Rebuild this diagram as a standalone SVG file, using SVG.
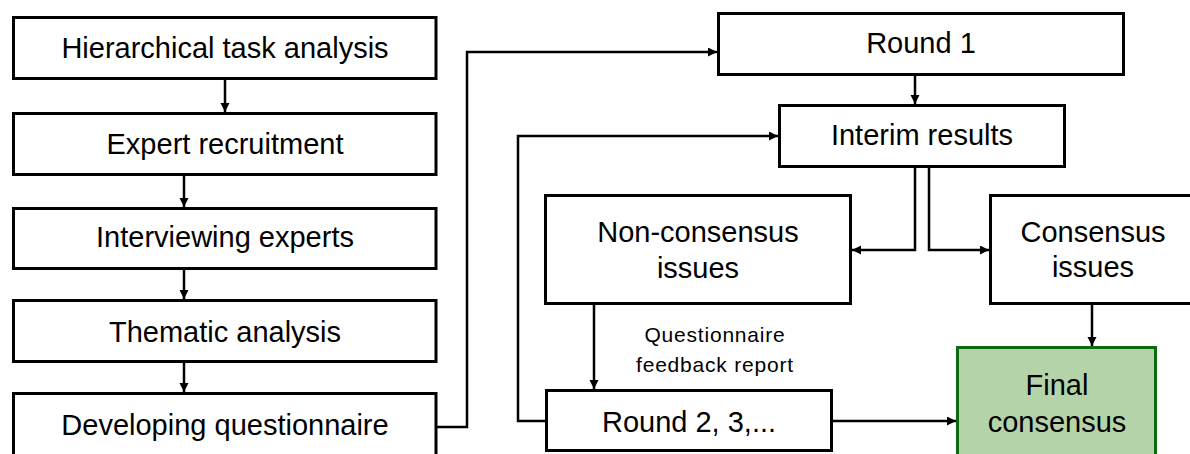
<svg xmlns="http://www.w3.org/2000/svg" width="1190" height="454" viewBox="0 0 1190 454">
<style>
.box{fill:#ffffff;stroke:#000000;stroke-width:3}
.final{fill:#b5d3a9;stroke:#106a10;stroke-width:3}
.t{font-family:"Liberation Sans",Arial,sans-serif;font-size:29px;fill:#000000;text-anchor:middle}
.s{font-family:"Liberation Sans",Arial,sans-serif;font-size:21px;letter-spacing:0.8px;fill:#000000;text-anchor:middle}
.c{fill:none;stroke:#000000;stroke-width:2.5;marker-end:url(#ah)}
</style>
<defs>
<marker id="ah" markerUnits="userSpaceOnUse" markerWidth="10" markerHeight="10" refX="9" refY="4.5" orient="auto">
<path d="M0,0 L9,4.5 L0,9 z" fill="#000000"/>
</marker>
</defs>
<rect width="1190" height="454" fill="#ffffff"/>
<g id="connectors">
<path class="c" d="M225,80 V112"/>
<path class="c" d="M184,176 V207"/>
<path class="c" d="M184,270 V299"/>
<path class="c" d="M184,363 V392"/>
<path class="c" d="M437,427 H467 V52 H717"/>
<path class="c" d="M915,76 V104"/>
<path class="c" d="M915,168 V250 H852"/>
<path class="c" d="M929,168 V250 H989"/>
<path class="c" d="M1092,305 V346"/>
<path class="c" d="M594,305 V389"/>
<path class="c" d="M545,421 H518 V136 H778"/>
<path class="c" d="M833,421 H956"/>
</g>
<g id="hta"><rect class="box" x="13.5" y="17.5" width="422.5" height="61"/><text class="t" x="225" y="58">Hierarchical task analysis</text></g>
<g id="recruit"><rect class="box" x="13.5" y="113.5" width="422.5" height="61"/><text class="t" x="225" y="154">Expert recruitment</text></g>
<g id="interview"><rect class="box" x="13.5" y="208.5" width="422.5" height="60"/><text class="t" x="225" y="247">Interviewing experts</text></g>
<g id="thematic"><rect class="box" x="13.5" y="300.5" width="422.5" height="61"/><text class="t" x="225" y="342">Thematic analysis</text></g>
<g id="developing"><rect class="box" x="13.5" y="393.5" width="422.5" height="80"/><text class="t" x="225" y="435">Developing questionnaire</text></g>
<g id="round1"><rect class="box" x="718.5" y="13.5" width="405" height="61"/><text class="t" x="921" y="53">Round 1</text></g>
<g id="interim"><rect class="box" x="779.5" y="105.5" width="285" height="61"/><text class="t" x="922" y="145">Interim results</text></g>
<g id="nonconsensus"><rect class="box" x="545.5" y="195.5" width="305" height="108"/><text class="t" x="698" y="242">Non-consensus</text><text class="t" x="698" y="278">issues</text></g>
<g id="consensus"><rect class="box" x="990.5" y="195.5" width="207" height="108"/><text class="t" x="1093" y="242">Consensus</text><text class="t" x="1093" y="277">issues</text></g>
<g id="final"><rect class="final" x="957.5" y="347.5" width="198" height="120"/><text class="t" x="1057" y="395">Final</text><text class="t" x="1057" y="432">consensus</text></g>
<g id="round2"><rect class="box" x="546.5" y="390.5" width="285" height="60"/><text class="t" x="689" y="432">Round 2, 3,...</text></g>
<g id="label"><text class="s" x="715" y="342">Questionnaire</text><text class="s" x="715" y="372">feedback report</text></g>
</svg>
